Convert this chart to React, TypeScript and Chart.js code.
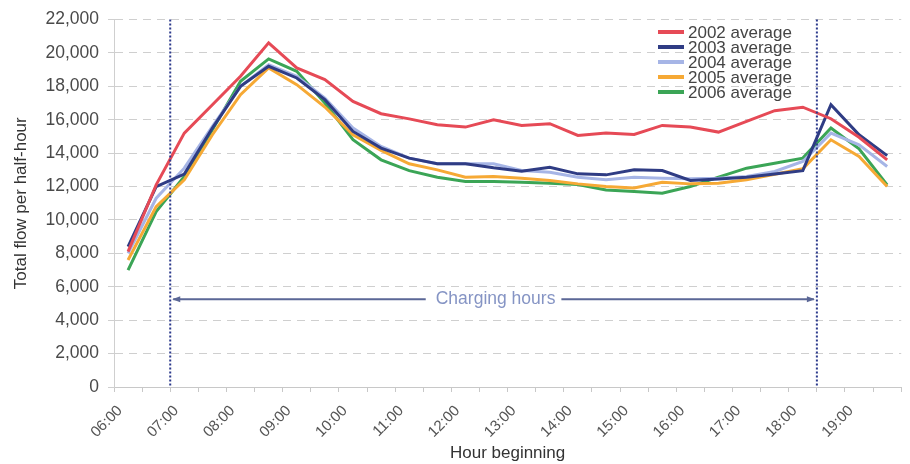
import React, { useEffect, useRef } from 'react';
import { Chart, registerables } from 'chart.js';

Chart.register(...registerables);

const categories = [
  '06:00', '06:30', '07:00', '07:30', '08:00', '08:30', '09:00', '09:30',
  '10:00', '10:30', '11:00', '11:30', '12:00', '12:30', '13:00', '13:30',
  '14:00', '14:30', '15:00', '15:30', '16:00', '16:30', '17:00', '17:30',
  '18:00', '18:30', '19:00', '19:30',
];

const series2002 = [8100, 12100, 15200, 16900, 18600, 20600, 19100, 18400, 17100, 16360, 16050, 15700, 15560, 16000, 15660, 15760, 15060, 15200, 15120, 15660, 15560, 15260, 15900, 16540, 16750, 16060, 14950, 13600];
const series2003 = [8400, 12000, 12750, 15500, 18000, 19200, 18500, 17200, 15300, 14300, 13700, 13360, 13360, 13120, 12920, 13160, 12760, 12700, 13000, 12960, 12360, 12450, 12550, 12750, 12950, 16900, 15100, 13850];
const series2004 = [8000, 11300, 13100, 15600, 18000, 19300, 18600, 17300, 15500, 14400, 13700, 13360, 13360, 13360, 12960, 12860, 12560, 12400, 12560, 12500, 12460, 12500, 12600, 12900, 13500, 15200, 14500, 13200];
const series2005 = [7600, 10800, 12400, 15100, 17500, 19100, 18100, 16760, 15100, 14160, 13360, 13000, 12560, 12600, 12500, 12360, 12160, 12000, 11920, 12260, 12160, 12200, 12400, 12740, 13060, 14800, 13800, 12000];
const series2006 = [7000, 10500, 12600, 15400, 18300, 19640, 18900, 17000, 14800, 13600, 12950, 12560, 12300, 12300, 12260, 12200, 12120, 11800, 11700, 11600, 12000, 12560, 13100, 13400, 13700, 15500, 14260, 12100];

const seriesNames = ['2002 average', '2003 average', '2004 average', '2005 average', '2006 average'];
const seriesData = [series2002, series2003, series2004, series2005, series2006];
const seriesColors = ['#e64a56', '#2f3c84', '#a6b5e6', '#f6a935', '#3ba556'];

const yMin = 0;
const yMax = 22000;
const yStep = 2000;

const chargingLabel = 'Charging hours';
const chargingStart = 1.5; // boundary before 07:00
const chargingEnd = 24.5; // boundary before 18:30
const chargingArrowValue = 5250;

const xTitle = 'Hour beginning';
const yTitle = 'Total flow per half-hour';

const FONT = '"Liberation Sans", Arial, sans-serif';

export default function App() {
  const ref = useRef<HTMLCanvasElement>(null);

  useEffect(() => {
    const canvas = ref.current;
    if (!canvas) return;

    const overlay = {
      id: 'overlay',
      afterDatasetsDraw(chart: any) {
        const { ctx, scales } = chart;
        const x = scales.x;
        const y = scales.y;
        const xs = x.getPixelForValue(chargingStart);
        const xe = x.getPixelForValue(chargingEnd);
        const yTop = y.getPixelForValue(yMax);
        const yBot = y.getPixelForValue(yMin);
        ctx.save();
        ctx.strokeStyle = '#2c3a8c';
        ctx.lineWidth = 2;
        ctx.setLineDash([2, 2]);
        [xs, xe].forEach((px) => {
          ctx.beginPath();
          ctx.moveTo(px, yTop);
          ctx.lineTo(px, yBot);
          ctx.stroke();
        });
        ctx.setLineDash([]);
        const ay = y.getPixelForValue(chargingArrowValue);
        ctx.font = `17.5px ${FONT}`;
        const w = ctx.measureText(chargingLabel).width;
        const cx = (xs + xe) / 2 + 2;
        ctx.strokeStyle = '#5b6796';
        ctx.fillStyle = '#5b6796';
        ctx.lineWidth = 2;
        ctx.beginPath();
        ctx.moveTo(xs + 3, ay);
        ctx.lineTo(cx - w / 2 - 10, ay);
        ctx.moveTo(cx + w / 2 + 6, ay);
        ctx.lineTo(xe - 3, ay);
        ctx.stroke();
        ctx.beginPath();
        ctx.moveTo(xs + 2, ay);
        ctx.lineTo(xs + 10, ay - 3);
        ctx.lineTo(xs + 10, ay + 3);
        ctx.closePath();
        ctx.fill();
        ctx.beginPath();
        ctx.moveTo(xe - 2, ay);
        ctx.lineTo(xe - 10, ay - 3);
        ctx.lineTo(xe - 10, ay + 3);
        ctx.closePath();
        ctx.fill();
        ctx.fillStyle = '#8594c4';
        ctx.textAlign = 'center';
        ctx.textBaseline = 'middle';
        ctx.fillText(chargingLabel, cx, ay);
        ctx.restore();
      },
      afterDraw(chart: any) {
        const { ctx } = chart;
        ctx.save();
        ctx.font = `17px ${FONT}`;
        ctx.textBaseline = 'middle';
        ctx.textAlign = 'left';
        const lx = 658;
        const ly0 = 32;
        const rowH = 15;
        chart.data.datasets.forEach((ds: any, i: number) => {
          const yy = ly0 + i * rowH;
          ctx.strokeStyle = ds.borderColor;
          ctx.lineWidth = 4;
          ctx.beginPath();
          ctx.moveTo(lx, yy);
          ctx.lineTo(lx + 26, yy);
          ctx.stroke();
          ctx.fillStyle = '#444';
          ctx.fillText(ds.label, lx + 30, yy + 1);
        });
        ctx.restore();
      },
    };

    const chart = new Chart(canvas, {
      type: 'line',
      data: {
        labels: categories,
        datasets: seriesNames.map((name, i) => ({
          label: name,
          data: seriesData[i],
          borderColor: seriesColors[i],
          backgroundColor: seriesColors[i],
          borderWidth: 3,
          pointRadius: 0,
          tension: 0,
          fill: false,
        })),
      },
      options: {
        responsive: true,
        maintainAspectRatio: false,
        animation: false,
        layout: { padding: { left: 0, right: 6, top: 19, bottom: 0 } },
        plugins: { legend: { display: false }, tooltip: { enabled: false } },
        scales: {
          x: {
            type: 'category',
            offset: true,
            grid: { display: true, drawOnChartArea: false, drawTicks: true, tickLength: 5, color: '#c8c8c8', offset: true },
            border: { display: true, color: '#c8c8c8', width: 1 },
            ticks: {
              autoSkip: false,
              minRotation: 45,
              maxRotation: 45,
              padding: 10,
              labelOffset: -8,
              color: '#555',
              font: { family: FONT, size: 15 },
              callback: (_v: any, i: number) => (categories[i].endsWith(':00') ? categories[i] : ''),
            },
            title: { display: true, text: xTitle, color: '#333', font: { family: FONT, size: 17 }, padding: { top: 0, bottom: 0 } },
            afterFit: (s: any) => { s.height = 77; },
          },
          y: {
            min: yMin,
            max: yMax,
            ticks: {
              stepSize: yStep,
              color: '#4a4a4a',
              padding: 9,
              font: { family: FONT, size: 17.5 },
              callback: (v: any) => Number(v).toLocaleString('en-US'),
            },
            grid: { color: '#cfcfcf', tickLength: 6, lineWidth: 1 },
            border: { display: true, color: '#cfcfcf', dash: [8, 6] },
            title: { display: true, text: yTitle, color: '#333', font: { family: FONT, size: 17 }, padding: { top: 11, bottom: 0 } },
            afterFit: (s: any) => { s.width = 114; },
          },
        },
      },
      plugins: [overlay],
    });

    return () => chart.destroy();
  }, []);

  return (
    <div style={{ position: 'fixed', left: 0, top: 0, width: 910, height: 464, background: '#fff' }}>
      <canvas ref={ref} />
    </div>
  );
}
